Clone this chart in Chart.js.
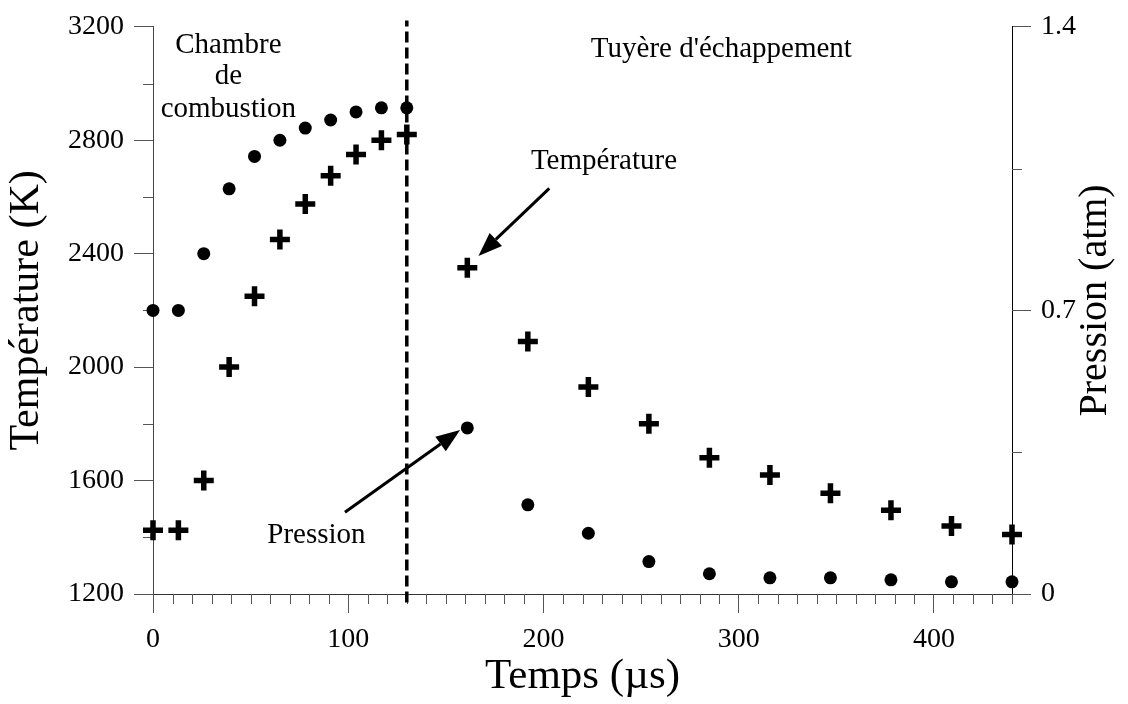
<!DOCTYPE html>
<html lang="fr">
<head>
<meta charset="utf-8">
<title>Température et pression</title>
<script src="https://cdn.jsdelivr.net/npm/chart.js@4.4.1/dist/chart.umd.min.js"></script>
<style>
  html, body { margin: 0; padding: 0; background: #fff; }
  #wrap { width: 1128px; height: 704px; position: relative; }
</style>
</head>
<body>
<div id="wrap"><canvas id="graphe"></canvas></div>
<script>
// temps (µs) des mesures
const temps = [0, 13, 26, 39, 52, 65, 78, 91, 104, 117, 130, 161, 192, 223, 254, 285, 316, 347, 378, 409, 440];
// température (K), croix
const temperature = [1425, 1425, 1600, 2000, 2250, 2450, 2575, 2675, 2750, 2800, 2820, 2350, 2090, 1930, 1800, 1680, 1620, 1555, 1495, 1440, 1410];
// pression (atm), points
const pression = [0.70, 0.70, 0.84, 1.00, 1.08, 1.12, 1.15, 1.17, 1.19, 1.20, 1.20, 0.41, 0.22, 0.15, 0.08, 0.05, 0.04, 0.04, 0.035, 0.03, 0.03];

const ticksTemps = [0, 100, 200, 300, 400];
const ticksTemperature = [1200, 1600, 2000, 2400, 2800, 3200];
const ticksPression = [0, 0.7, 1.4];

// limite chambre / tuyère
const limiteX = 130;
const limiteY = [1170, 3222];

const serif = "'Liberation Serif', 'Times New Roman', serif";

const notes = [
  { text: "Chambre", x: 38.6, y: 3136 },
  { text: "de", x: 38.6, y: 3025 },
  { text: "combustion", x: 38.6, y: 2909 },
  { text: "Tuyère d'échappement", x: 358, y: 3122, align: "right" },
  { text: "Température", x: 231, y: 2724 },
  { text: "Pression", x: 83.7, y: 1407 }
];
const fleches = [
  { de: [203, 2630], a: [166.7, 2392] },
  { de: [98.3, 1488], a: [157.3, 1778] }
];

function fixTicks(valeurs) {
  return scale => { scale.ticks = valeurs.map(v => ({ value: v })); };
}

function fleche(ctx, x0, y0, x1, y1) {
  const ang = Math.atan2(y1 - y0, x1 - x0);
  const head = 24, half = 9;
  const bx = x1 - head * Math.cos(ang), by = y1 - head * Math.sin(ang);
  ctx.lineWidth = 3;
  ctx.beginPath();
  ctx.moveTo(x0, y0);
  ctx.lineTo(bx, by);
  ctx.stroke();
  ctx.beginPath();
  ctx.moveTo(x1, y1);
  ctx.lineTo(bx + half * Math.sin(ang), by - half * Math.cos(ang));
  ctx.lineTo(bx - half * Math.sin(ang), by + half * Math.cos(ang));
  ctx.closePath();
  ctx.fill();
}

const decor = {
  id: "decor",
  beforeDatasetsDraw(chart) {
    const { ctx, chartArea: a, scales: { x, y, y1 } } = chart;
    ctx.save();
    ctx.strokeStyle = "#555";
    ctx.lineWidth = 1;
    ctx.beginPath();
    for (let v = 10; v <= 440; v += 10) {
      if (v % 100 === 0) continue;
      const px = Math.round(x.getPixelForValue(v)) + 0.5;
      ctx.moveTo(px, a.bottom);
      ctx.lineTo(px, a.bottom + 10);
    }
    for (let v = 1400; v < 3200; v += 400) {
      const py = Math.round(y.getPixelForValue(v)) + 0.5;
      ctx.moveTo(a.left, py);
      ctx.lineTo(a.left - 10, py);
    }
    [0.35, 1.05].forEach(v => {
      const py = Math.round(y1.getPixelForValue(v)) + 0.5;
      ctx.moveTo(a.right, py);
      ctx.lineTo(a.right + 10, py);
    });
    ctx.stroke();
    ctx.restore();
  },
  afterDatasetsDraw(chart) {
    const { ctx, chartArea: a, scales: { x, y } } = chart;
    ctx.save();
    ctx.fillStyle = "#000";
    ctx.strokeStyle = "#000";
    ctx.font = "29px " + serif;
    ctx.textBaseline = "middle";
    notes.forEach(n => {
      ctx.textAlign = n.align || "center";
      ctx.fillText(n.text, x.getPixelForValue(n.x), y.getPixelForValue(n.y));
    });
    fleches.forEach(f => {
      fleche(ctx, x.getPixelForValue(f.de[0]), y.getPixelForValue(f.de[1]),
        x.getPixelForValue(f.a[0]), y.getPixelForValue(f.a[1]));
    });
    // titre de l'axe de droite, lu de bas en haut
    ctx.font = "40px " + serif;
    ctx.textAlign = "center";
    ctx.translate(chart.width - 33, (a.top + a.bottom) / 2 - 10);
    ctx.rotate(-Math.PI / 2);
    ctx.fillText("Pression (atm)", 0, 0);
    ctx.restore();
  }
};

const tickFont = { family: serif, size: 28 };
const ctx = document.getElementById("graphe");

new Chart(ctx, {
  type: "scatter",
  data: {
    datasets: [
      {
        label: "Température",
        data: temps.map((t, i) => ({ x: t, y: temperature[i] })),
        yAxisID: "y",
        pointStyle: "cross",
        pointRadius: 10,
        pointBorderWidth: 5.5,
        borderColor: "#000",
        backgroundColor: "#000",
        clip: false
      },
      {
        label: "Pression",
        data: temps.map((t, i) => ({ x: t, y: pression[i] })),
        yAxisID: "y1",
        pointStyle: "circle",
        pointRadius: 6.5,
        pointBorderWidth: 0,
        backgroundColor: "#000",
        borderColor: "#000",
        clip: false
      },
      {
        type: "line",
        label: "limite",
        data: limiteY.map(v => ({ x: limiteX, y: v })),
        yAxisID: "y",
        borderColor: "#000",
        borderWidth: 3.5,
        borderDash: [11, 5],
        pointRadius: 0,
        clip: false
      }
    ]
  },
  options: {
    responsive: true,
    maintainAspectRatio: false,
    animation: false,
    layout: { padding: { top: 22, left: 0, right: 0, bottom: 0 } },
    plugins: {
      legend: { display: false },
      tooltip: { enabled: false }
    },
    scales: {
      x: {
        type: "linear",
        position: "bottom",
        min: 0,
        max: 440,
        afterBuildTicks: fixTicks(ticksTemps),
        afterFit: s => { s.height = 110; },
        ticks: { font: tickFont, color: "#000", padding: 10, callback: v => String(v) },
        grid: { drawOnChartArea: false, tickLength: 19, color: "#555" },
        border: { color: "#333" },
        title: { display: true, text: "Temps (µs)", color: "#000", font: { family: serif, size: 43 }, padding: { top: 0, bottom: 1 } }
      },
      y: {
        type: "linear",
        position: "left",
        min: 1200,
        max: 3200,
        afterBuildTicks: fixTicks(ticksTemperature),
        afterFit: s => { s.width = 153; },
        ticks: { font: tickFont, color: "#000", padding: 10, callback: v => String(v) },
        grid: { drawOnChartArea: false, tickLength: 19, color: "#555" },
        border: { color: "#444" },
        title: { display: true, text: "Température (K)", color: "#000", font: { family: serif, size: 42 }, padding: { top: 2, bottom: 0 } }
      },
      y1: {
        type: "linear",
        position: "right",
        min: 0,
        max: 1.4,
        afterBuildTicks: fixTicks(ticksPression),
        afterFit: s => { s.width = 116; },
        ticks: { font: tickFont, color: "#000", padding: 10, callback: v => String(v) },
        grid: { drawOnChartArea: false, tickLength: 19, color: "#555" },
        border: { color: "#000" }
      }
    }
  },
  plugins: [decor]
});
</script>
</body>
</html>
